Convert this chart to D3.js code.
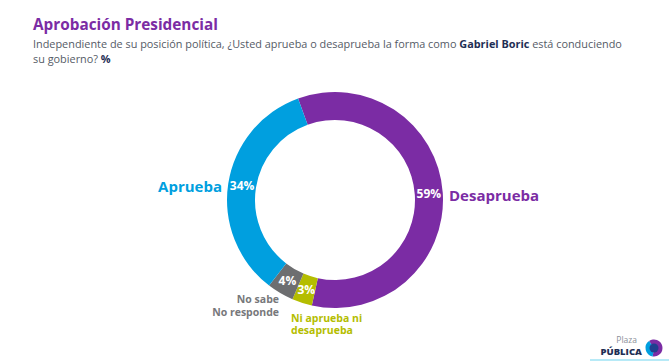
<!DOCTYPE html>
<html lang="es">
<head>
<meta charset="utf-8">
<title>Aprobación Presidencial</title>
<script src="https://cdn.jsdelivr.net/npm/d3@7"></script>
<style>
  body { margin: 0; background: #fff; }
  svg { display: block; font-family: "Open Sans", sans-serif; }
</style>
</head>
<body>
<div id="chart"></div>
<script>
// data
var categories = ["Desaprueba", "Ni aprueba ni desaprueba", "No sabe No responde", "Aprueba"];
var values = [59, 3, 4, 34];
var colors = ["#7b2ca4", "#b4bd00", "#6d6e70", "#009fdf"];

var width = 669, height = 361;
var cx = 335, cy = 200, rOut = 108, rIn = 80;
var startDeg = -20;

var svg = d3.select("#chart").append("svg")
    .attr("width", width)
    .attr("height", height);

// squeeze a text to a target width by font size
function fitWidth(sel, target) {
    var w = sel.node().getComputedTextLength();
    if (w > 0) sel.attr("font-size", +sel.attr("font-size") * target / w);
    return +sel.attr("font-size");
}

// title + subtitle
var title = svg.append("text")
    .attr("x", 33).attr("y", 30)
    .attr("font-size", 17).attr("font-weight", 700)
    .attr("fill", "#7b2ca4")
    .text("Aprobación Presidencial");
fitWidth(title, 185);

var sub1 = svg.append("text")
    .attr("x", 33).attr("y", 48)
    .attr("font-size", 11.5).attr("fill", "#555b66");
sub1.append("tspan").text("Independiente de su posición política, ¿Usted aprueba o desaprueba la forma como ");
sub1.append("tspan").attr("font-weight", 700).attr("fill", "#1f2f55").text("Gabriel Boric");
sub1.append("tspan").text(" está conduciendo");

var sub2 = svg.append("text")
    .attr("x", 33).attr("y", 63)
    .attr("font-size", 11.5).attr("fill", "#555b66");
sub2.append("tspan").text("su gobierno? ");
sub2.append("tspan").attr("font-weight", 700).attr("fill", "#1f2f55").text("%");

sub2.attr("font-size", fitWidth(sub1, 590));

// donut
var pie = d3.pie()
    .sort(null)
    .startAngle(startDeg * Math.PI / 180)
    .endAngle((startDeg + 360) * Math.PI / 180);

var arc = d3.arc().innerRadius(rIn).outerRadius(rOut);
var labelArc = d3.arc().innerRadius(94).outerRadius(94);

var g = svg.append("g").attr("transform", "translate(" + cx + "," + cy + ")");
var arcs = pie(values);

g.selectAll("path")
    .data(arcs)
    .enter()
    .append("path")
    .attr("d", arc)
    .attr("fill", function(d, i) { return colors[i]; });

// percent labels inside the ring
g.selectAll("text.pct")
    .data(arcs)
    .enter()
    .append("text")
    .attr("class", "pct")
    .attr("transform", function(d) { return "translate(" + labelArc.centroid(d) + ")"; })
    .attr("dy", "0.36em")
    .attr("text-anchor", "middle")
    .attr("font-size", 12)
    .attr("font-weight", 700)
    .attr("fill", "#fff")
    .text(function(d) { return d.data + "%"; });

// category labels
svg.append("text")
    .attr("x", 222).attr("y", 192)
    .attr("text-anchor", "end")
    .attr("font-size", 15).attr("font-weight", 700)
    .attr("fill", colors[3])
    .text("Aprueba");

svg.append("text")
    .attr("x", 449).attr("y", 201)
    .attr("font-size", 15).attr("font-weight", 700)
    .attr("fill", colors[0])
    .text("Desaprueba");

var ns = svg.append("text")
    .attr("text-anchor", "end")
    .attr("font-size", 10.5).attr("font-weight", 700)
    .attr("fill", "#77787b");
ns.append("tspan").attr("x", 279).attr("y", 303).text("No sabe");
ns.append("tspan").attr("x", 279).attr("y", 316).text("No responde");

var ni = svg.append("text")
    .attr("font-size", 10.5).attr("font-weight", 700)
    .attr("fill", colors[1]);
ni.append("tspan").attr("x", 291).attr("y", 322).text("Ni aprueba ni");
ni.append("tspan").attr("x", 291).attr("y", 334).text("desaprueba");

// logo
svg.append("text")
    .attr("x", 637).attr("y", 343)
    .attr("text-anchor", "end")
    .attr("font-size", 8.5).attr("fill", "#8a8f99")
    .text("Plaza");
svg.append("text")
    .attr("x", 642).attr("y", 355)
    .attr("text-anchor", "end")
    .attr("font-size", 9.5).attr("font-weight", 800)
    .attr("fill", "#1f2f55")
    .text("PÚBLICA");

var logo = svg.append("g").attr("transform", "translate(654,348)");
logo.append("path")
    .attr("d", d3.arc().innerRadius(0).outerRadius(8.5).startAngle(-Math.PI * 0.2).endAngle(Math.PI * 1.05)())
    .attr("fill", "#7b2ca4");
logo.append("path")
    .attr("d", d3.arc().innerRadius(0).outerRadius(8.5).startAngle(Math.PI * 1.05).endAngle(Math.PI * 1.8)())
    .attr("fill", "#009fdf");
logo.append("circle").attr("r", 4.5).attr("fill", "#1f3f8f");

svg.append("line")
    .attr("x1", 590).attr("x2", width)
    .attr("y1", 360).attr("y2", 360)
    .attr("stroke", "#9fe3f5").attr("stroke-width", 1.5);
</script>
</body>
</html>
